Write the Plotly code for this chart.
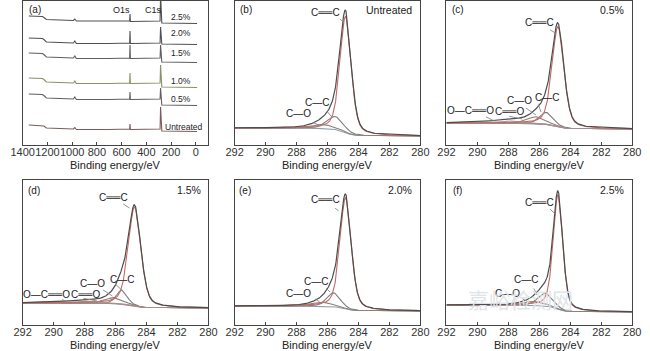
import numpy as np
import plotly.graph_objects as go

W, H = 650, 351

# ---------------- Panel (a): survey spectra ----------------
survey_labels = ["2.5%", "2.0%", "1.5%", "1.0%", "0.5%", "Untreated"]
survey_energy = [1350, 1240, 1228, 1208, 1100, 990, 978, 966, 700, 545, 535, 532, 529,
                 520, 300, 289, 285, 281, 275, -10]
survey_2p5 = [129, 128.5, 127.5, 125.5, 125, 124.5, 126, 124, 124, 124, 124, 131, 123.5,
              123.5, 124, 124, 150, 122, 122, 121.5]
survey_2p0 = [107, 106.5, 105.5, 103, 102.5, 102, 104, 101.5, 101.5, 102, 102, 114, 101.5,
              101.5, 102, 102, 118, 101, 101, 100.5]
survey_1p5 = [92, 91.5, 90.5, 88, 87.5, 87, 89, 86.5, 86.5, 87, 87, 100, 86.5,
              86.5, 87, 87, 100, 83, 83, 82.5]
survey_1p0 = [67, 66.5, 65.5, 63, 62.5, 62, 64, 61.5, 61.5, 62, 62, 72, 61.5,
              61.5, 62, 62, 80, 58, 58, 57.5]
survey_0p5 = [51, 50.5, 49.5, 47, 46.5, 46, 48, 45.5, 45.5, 46, 46, 53, 45.5,
              45.5, 46, 46, 57, 40, 40, 39.5]
survey_untreated = [20, 19.5, 19, 17, 16.5, 16, 17.5, 15.5, 15.5, 16, 16, 21, 15.5,
                    15.5, 16, 16, 38, 14, 14, 13.5]
survey_series = [survey_2p5, survey_2p0, survey_1p5, survey_1p0, survey_0p5, survey_untreated]
survey_ticks = [1400, 1200, 1000, 800, 600, 400, 200, 0]

# ---------------- Panels (b)-(f): C1s high-resolution fits ----------------
hr_labels = ["Untreated", "0.5%", "1.5%", "2.0%", "2.5%"]
hr_panels = ["(b)", "(c)", "(d)", "(e)", "(f)"]
# C=C (sp2)
ccd_center = [284.83, 284.80, 284.77, 284.83, 284.80]
ccd_height = [116, 100, 99, 111, 114]
ccd_fwhm = [0.85, 0.90, 0.95, 0.85, 0.72]
# C-C (sp3)
ccs_center = [285.50, 285.55, 285.60, 285.60, 285.60]
ccs_height = [13, 12, 14, 14, 13]
ccs_fwhm = [1.2, 1.0, 0.8, 1.0, 1.1]
# C-O
co_center = [286.30, 286.20, 286.10, 286.30, 286.30]
co_height = [4, 7, 6, 4, 4]
co_fwhm = [1.6, 1.3, 1.3, 1.5, 1.6]
# C=O
cdo_center = [287.6, 287.6, 287.7, 287.6, 287.6]
cdo_height = [0, 2.5, 2.0, 0, 0]
cdo_fwhm = [1.5, 1.5, 1.5, 1.5, 1.5]
# O-C=O
oco_center = [289.3, 289.3, 289.5, 289.3, 289.3]
oco_height = [0, 1.5, 1.5, 0, 0]
oco_fwhm = [2.0, 2.0, 2.0, 2.0, 2.0]
# Shirley background end levels
bg_high_be = [17, 22, 22, 19, 20]
bg_low_be = [9, 16, 17, 14, 13]
hr_ticks = [292, 290, 288, 286, 284, 282, 280]

# ---------------- layout geometry (pixels) ----------------
boxes = [  # x0, x1, y0(top), y1(bottom)
    (11, 203, 1, 145),
    (230, 422, 1, 145),
    (449, 641, 1, 145),
    (11, 203, 180, 325),
    (230, 422, 180, 325),
    (449, 641, 180, 325),
]

FONT = "Liberation Sans, Arial, sans-serif"
AX = "#444444"

fig = go.Figure()


def axn(i):
    return ("x", "y") if i == 0 else (f"x{i+1}", f"y{i+1}")


def pv(x, c, h, fwhm, eta=0.4):
    hw = fwhm / 2.0
    lor = 1.0 / (1.0 + ((x - c) / hw) ** 2)
    gau = np.exp(-np.log(2) * ((x - c) / hw) ** 2)
    return h * (eta * lor + (1 - eta) * gau)


# ---- survey traces ----
survey_colors = ["#505050", "#505050", "#5e5e5e", "#8b9068", "#606060", "#7a5c5c"]
for vals, col in zip(survey_series, survey_colors):
    fig.add_trace(go.Scatter(x=survey_energy, y=vals, mode="lines",
                             line=dict(color=col, width=1.1), xaxis="x", yaxis="y",
                             hoverinfo="skip"))

# ---- high resolution traces ----
grid = np.linspace(280, 292, 961)
for k in range(5):
    xa, ya = axn(k + 1)
    comps = [
        (ccd_center[k], ccd_height[k], ccd_fwhm[k], "#c46a66"),
        (ccs_center[k], ccs_height[k], ccs_fwhm[k], "#7d7d7d"),
        (co_center[k], co_height[k], co_fwhm[k], "#8f7f78"),
        (cdo_center[k], cdo_height[k], cdo_fwhm[k], "#b0908a"),
        (oco_center[k], oco_height[k], oco_fwhm[k], "#a08e8c"),
    ]
    curves = [pv(grid, c, h, w) for c, h, w, _ in comps]
    total = np.sum(curves, axis=0)
    cum = np.cumsum(total)
    bg = bg_low_be[k] + (bg_high_be[k] - bg_low_be[k]) * cum / cum[-1]
    fig.add_trace(go.Scatter(x=grid, y=bg, mode="lines", line=dict(color="#8fa0a6", width=1.1),
                             xaxis=xa, yaxis=ya, hoverinfo="skip"))
    for (c, h, w, col), cv in zip(comps[1:], curves[1:]):
        if h <= 0:
            continue
        fig.add_trace(go.Scatter(x=grid, y=cv + bg, mode="lines", line=dict(color=col, width=1.1),
                                 xaxis=xa, yaxis=ya, hoverinfo="skip"))
    fig.add_trace(go.Scatter(x=grid, y=curves[0] + bg, mode="lines",
                             line=dict(color=comps[0][3], width=1.1),
                             xaxis=xa, yaxis=ya, hoverinfo="skip"))
    fig.add_trace(go.Scatter(x=grid, y=total + bg, mode="lines", line=dict(color="#4d4d4d", width=1.2),
                             xaxis=xa, yaxis=ya, hoverinfo="skip"))

# ---- axes ----
layout = dict(width=W, height=H, margin=dict(l=0, r=0, t=0, b=0),
              paper_bgcolor="white", plot_bgcolor="white", showlegend=False,
              font=dict(family=FONT, color="#333333"))
for i, (x0, x1, y0, y1) in enumerate(boxes):
    xk = "xaxis" if i == 0 else f"xaxis{i+1}"
    yk = "yaxis" if i == 0 else f"yaxis{i+1}"
    xa, ya = axn(i)
    if i == 0:
        xr = [1400, -102]
        tv = survey_ticks
    else:
        xr = [292, 280]
        tv = hr_ticks
    layout[xk] = dict(domain=[x0 / W, x1 / W], anchor=ya, range=xr, tickvals=tv,
                      ticktext=[str(t) for t in tv], tickangle=0, ticklabelstandoff=-3,
                      showgrid=False, zeroline=False, showline=True, linecolor=AX, linewidth=1,
                      mirror=True, ticks="inside", ticklen=3, tickcolor=AX,
                      tickfont=dict(size=11, color="#333333", family=FONT))
    layout[yk] = dict(domain=[1 - y1 / H, 1 - y0 / H], anchor=xa, range=[0, y1 - y0],
                      showgrid=False, zeroline=False, showline=True, linecolor=AX, linewidth=1,
                      mirror=True, ticks="", showticklabels=False)
fig.update_layout(**layout)

ann = []


def ptext(text, px, py, size=10.5, xanchor="center"):
    ann.append(dict(text=text, x=px / W, y=1 - py / H, xref="paper", yref="paper",
                    showarrow=False, xanchor=xanchor, yanchor="middle",
                    font=dict(size=size, family=FONT, color="#222222")))


# axis titles
for i, (x0, x1, y0, y1) in enumerate(boxes):
    ty = 165 if i < 3 else 345
    ptext("Binding energy/eV", (x0 + x1) / 2, ty, size=11)

# panel (a) labels
ptext("(a)", 15, 10, size=10, xanchor="left")
ptext("O1s", 113, 10, size=9)
ptext("C1s", 146, 10, size=9)
survey_label_pos = [(175, 17), (175, 33), (175, 53), (175, 81), (175, 99), (178, 127)]
for lab, (px, py) in zip(survey_labels, survey_label_pos):
    ptext(lab, px, py, size=8.5)

# panel tags and sample names
tag_pos = [(234, 10), (453, 10), (14, 190), (232, 190), (454, 190)]
name_pos = [(415, 10), (635, 10), (197, 190), (415, 190), (635, 190)]
for k in range(5):
    ptext(hr_panels[k], *tag_pos[k], size=10, xanchor="left")
    ptext(hr_labels[k], *name_pos[k], size=10.5, xanchor="right")

# peak labels (data coordinates) : panel, text, x, y, arrow tail (x,y), arrow head (x,y)
DB = "\u2550\u2550"
peak_labels = [
    (1, "C" + DB + "C", 286.10, 132, (285.28, 127), (284.96, 123)),
    (1, "C\u2014C", 286.66, 42, (286.10, 35), (285.72, 28)),
    (1, "C\u2014O", 287.85, 31, (287.04, 23), (286.40, 19)),
    (2, "C" + DB + "C", 285.97, 122, (285.40, 116), (284.97, 112)),
    (2, "C\u2014C", 285.53, 47, (286.10, 42), (285.90, 33)),
    (2, "C\u2014O", 287.29, 44, (286.97, 38), (286.22, 30)),
    (2, "C" + DB + "O", 287.92, 33, (288.04, 29), (287.10, 26)),
    (2, "O\u2014C" + DB + "O", 290.43, 34, (289.55, 29), (288.92, 24)),
    (3, "C" + DB + "C", 286.16, 127, (285.60, 122), (285.10, 117)),
    (3, "C\u2014C", 285.60, 46, (286.10, 42), (285.60, 35)),
    (3, "C\u2014O", 287.48, 42, (286.90, 36), (286.20, 29)),
    (3, "C" + DB + "O", 287.92, 31, (288.17, 27), (287.20, 24)),
    (3, "O\u2014C" + DB + "O", 290.43, 31, (289.55, 26), (289.05, 23)),
    (4, "C" + DB + "C", 286.10, 125, (285.60, 118), (285.28, 114)),
    (4, "C\u2014C", 286.72, 44, (286.16, 38), (285.84, 33)),
    (4, "C\u2014O", 287.85, 32, (286.90, 27), (286.50, 23)),
    (5, "C" + DB + "C", 285.97, 122, (285.40, 117), (285.03, 112)),
    (5, "C\u2014C", 286.85, 46, (286.40, 38), (286.16, 30)),
    (5, "C\u2014O", 288.04, 32, (287.20, 27), (286.70, 23)),
]
for p, text, x, y, tail, head in peak_labels:
    xa, ya = axn(p)
    ann.append(dict(text=text, x=x, y=y, xref=xa, yref=ya, showarrow=False,
                    font=dict(size=10, family=FONT, color="#222222")))
    ann.append(dict(text="", x=head[0], y=head[1], ax=tail[0], ay=tail[1], xref=xa, yref=ya,
                    axref=xa, ayref=ya, showarrow=True, arrowhead=0, arrowwidth=0.9,
                    arrowcolor="#888888"))

# watermark
ann.append(dict(text="嘉峪检测网", x=582 / W, y=1 - 316 / H, xref="paper", yref="paper",
                showarrow=False, font=dict(size=21, family="Noto Sans CJK SC", color="#dfe4e8")))

fig.update_layout(annotations=ann)
fig.write_html("out.html")
